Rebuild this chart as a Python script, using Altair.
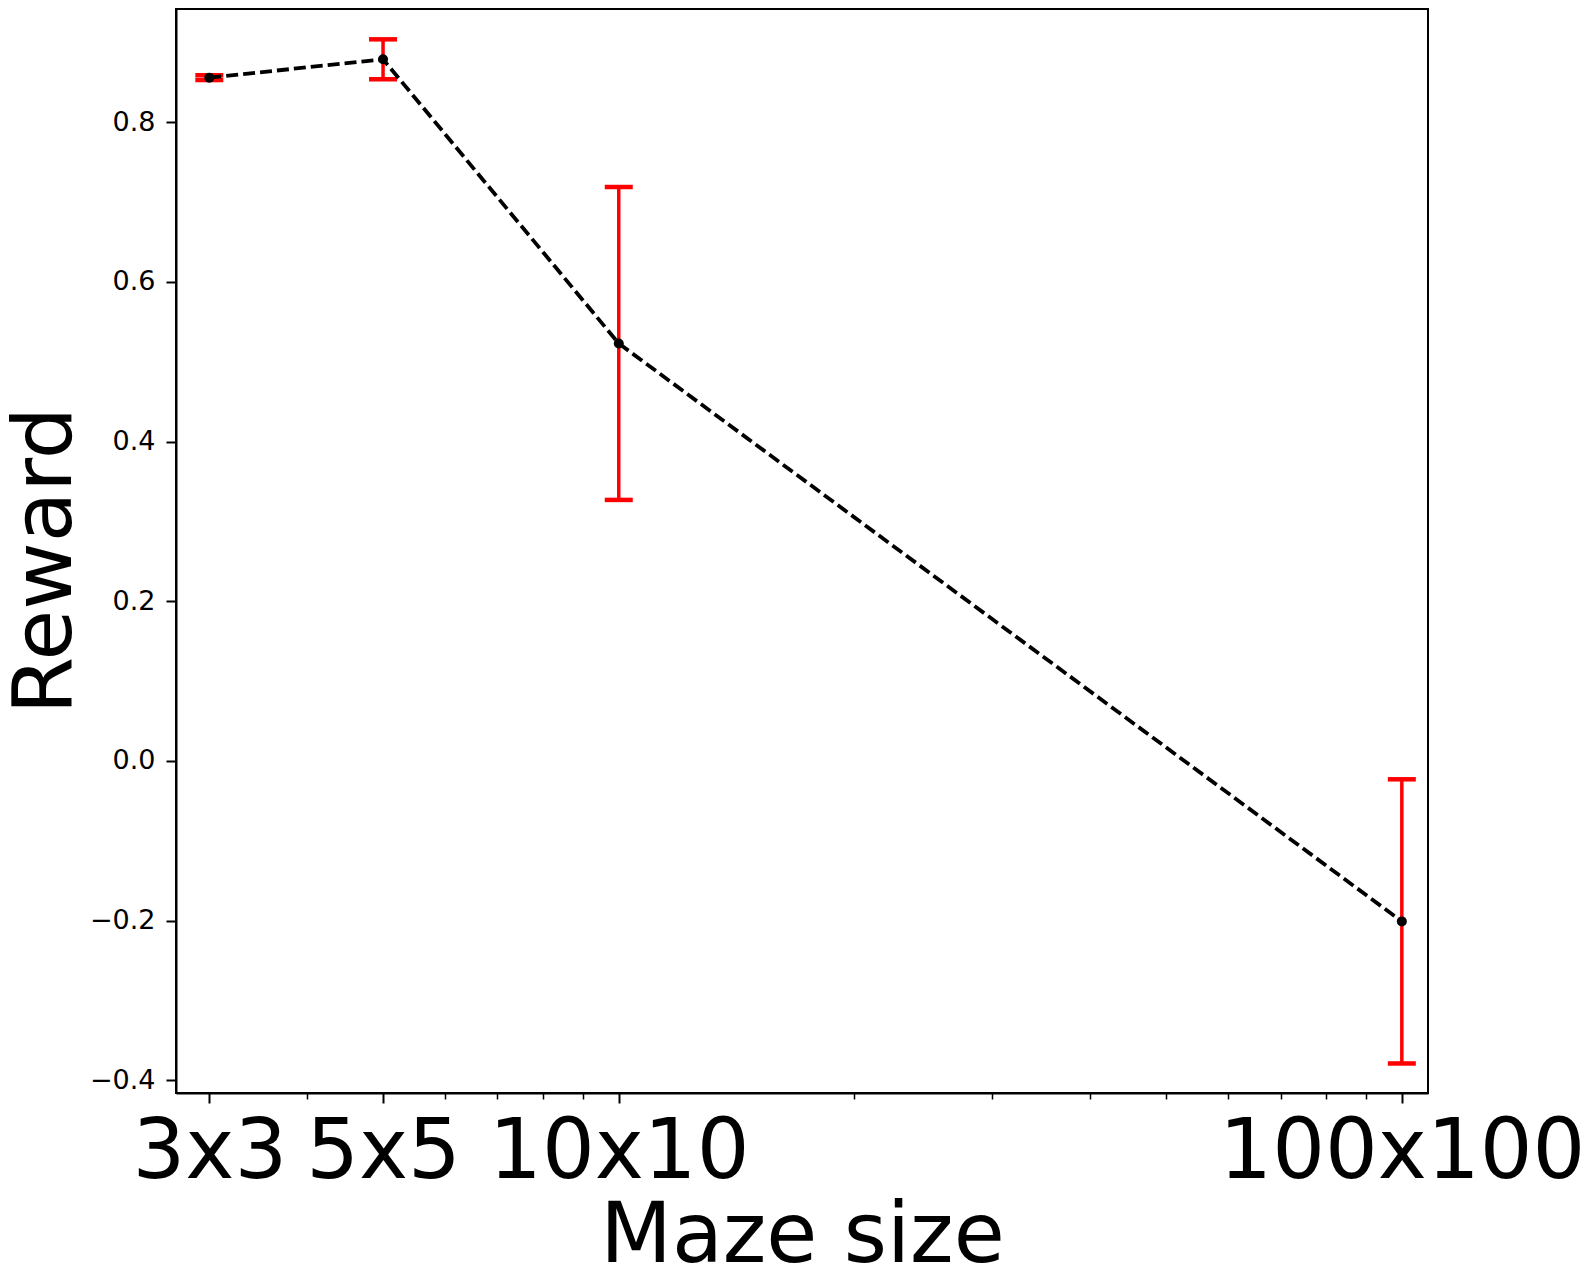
import altair as alt
import pandas as pd

# ---- data ----
sizes = [3, 5, 10, 100]
size_labels = ["3x3", "5x5", "10x10", "100x100"]
rewards = [0.856, 0.879, 0.523, -0.201]
errors = [0.003, 0.025, 0.196, 0.178]
minor_ticks = [4, 6, 7, 8, 9, 20, 30, 40, 50, 60, 70, 80, 90]
y_ticks = [-0.4, -0.2, 0.0, 0.2, 0.4, 0.6, 0.8]

df = pd.DataFrame({"size": sizes, "label": size_labels, "reward": rewards, "err": errors})
df["lo"] = df["reward"] - df["err"]
df["hi"] = df["reward"] + df["err"]
minor_df = pd.DataFrame({"size": minor_ticks})

FONT = "DejaVu Sans"
RED = "#ff0000"

label_expr = " : ".join(f"datum.value == {v} ? '{l}'" for v, l in zip(sizes, size_labels)) + " : ''"

x_scale = alt.Scale(type="log", domain=[2.72, 108], nice=False)
y_scale = alt.Scale(domain=[-0.416, 0.942], nice=False, zero=False)

x_axis_major = alt.Axis(
    values=sizes, labelExpr=label_expr, title="Maze size", orient="bottom", grid=False,
    tickSize=10, tickWidth=2, tickColor="black",
    labelFont=FONT, labelFontSize=83, labelColor="black", labelBaseline="alphabetic",
    labelPadding=74, labelOverlap=False, labelFlush=False, labelBound=False, labelLimit=0,
    titleFont=FONT, titleFontSize=83, titleFontWeight="normal", titleColor="black",
    titleBaseline="alphabetic", titleY=168, titleLimit=0,
    domainColor="black", domainWidth=2,
)
x_axis_minor = alt.Axis(
    values=minor_ticks, labels=False, title=None, orient="bottom", grid=False,
    tickSize=6, tickWidth=1.5, tickColor="black", domain=False,
)
y_axis = alt.Axis(
    values=y_ticks, format=".1f", title="Reward", grid=False,
    tickSize=10, tickWidth=2, tickColor="black",
    labelFont=FONT, labelFontSize=27, labelColor="black", labelPadding=11, labelLimit=0,
    titleFont=FONT, titleFontSize=82.5, titleFontWeight="normal", titleColor="black",
    titleAngle=270, titleX=-106, titleY=551, titleAlign="center", titleBaseline="alphabetic",
    titleLimit=0,
    domainColor="black", domainWidth=2,
)

base = alt.Chart(df)

err_rule = base.mark_rule(color=RED, strokeWidth=3.5).encode(
    x=alt.X("size:Q", scale=x_scale, axis=None),
    y=alt.Y("lo:Q", scale=y_scale, axis=y_axis),
    y2="hi:Q",
)
cap_lo = base.mark_tick(color=RED, thickness=4.5, size=28, orient="horizontal", opacity=1).encode(
    x=alt.X("size:Q", scale=x_scale, axis=None),
    y=alt.Y("lo:Q", scale=y_scale, axis=y_axis),
)
cap_hi = base.mark_tick(color=RED, thickness=4.5, size=28, orient="horizontal", opacity=1).encode(
    x=alt.X("size:Q", scale=x_scale, axis=None),
    y=alt.Y("hi:Q", scale=y_scale, axis=y_axis),
)
line = base.mark_line(color="black", strokeDash=[12, 5], strokeWidth=3.8).encode(
    x=alt.X("size:Q", scale=x_scale, axis=x_axis_major),
    y=alt.Y("reward:Q", scale=y_scale, axis=y_axis),
)
pts = base.mark_circle(size=100, color="black", opacity=1).encode(
    x=alt.X("size:Q", scale=x_scale, axis=None),
    y=alt.Y("reward:Q", scale=y_scale, axis=y_axis),
)
minor = alt.Chart(minor_df).mark_point(opacity=0).encode(
    x=alt.X("size:Q", scale=x_scale, axis=x_axis_minor),
)

chart = (
    alt.layer(err_rule, cap_lo, cap_hi, line, pts, minor)
    .resolve_axis(x="independent")
    .properties(
        width=1252, height=1084,
        padding={"left": 168, "top": 1, "right": 152, "bottom": 170},
        autosize="none",
        background="white",
    )
    .configure_view(stroke="black", strokeWidth=2)
)

chart.save("out.html", embed_options={"renderer": "svg", "actions": False})
